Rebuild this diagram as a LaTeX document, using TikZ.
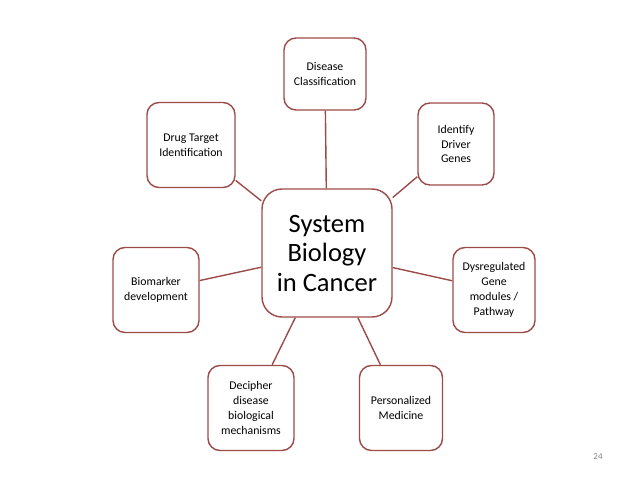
\documentclass[tikz,border=0pt]{standalone}
\usepackage{fontspec}
\setmainfont{Carlito}
\usepackage{xcolor}
\usepackage{tikz}
\usetikzlibrary{positioning}
\definecolor{boxred}{HTML}{9C4B48}

\begin{document}
\begin{tikzpicture}[
    x=1pt, y=-1pt,
    every node/.style={draw=boxred, line width=1.4pt, rounded corners=12pt, fill=white, align=center, inner sep=0pt},
    small/.style={font=\fontsize{11.8}{14.8}\selectfont},
    every edge/.style={draw=boxred, line width=1.4pt}
]
\useasboundingbox (0,0) rectangle (638,479);

\node (hub) [minimum width=130pt, minimum height=128pt, rounded corners=20pt,
    font=\fontsize{26.5}{29.5}\selectfont] at (327,253) {System\\Biology\\in Cancer};

\node (class) [small, minimum width=82pt, minimum height=72pt] at (325,74) {Disease\\Classification};
\node (drug) [small, minimum width=88pt, minimum height=85pt] at (191,145) {Drug Target\\Identification};
\node (driver) [small, minimum width=76pt, minimum height=82pt] at (456,144) {Identify\\Driver\\Genes};
\node (marker) [small, minimum width=86pt, minimum height=85pt] at (156,290) {Biomarker\\development};
\node (gene) [small, minimum width=82pt, minimum height=85pt] at (494,290) {Dysregulated\\Gene\\modules /\\Pathway};
\node (mech) [small, minimum width=86pt, minimum height=85pt] at (251,408) {Decipher\\disease\\biological\\mechanisms};
\node (med) [small, minimum width=83pt, minimum height=85pt] at (401,408) {Personalized\\Medicine};

\draw (hub) edge (class);
\draw (hub) edge (drug);
\draw (hub) edge (driver);
\draw (hub) edge (marker);
\draw (hub) edge (gene);
\draw (hub) edge (mech);
\draw (hub) edge (med);

\node (page) [draw=none, fill=none, text=gray, font=\fontsize{9}{11}\selectfont] at (598,457) {24};
\end{tikzpicture}
\end{document}
